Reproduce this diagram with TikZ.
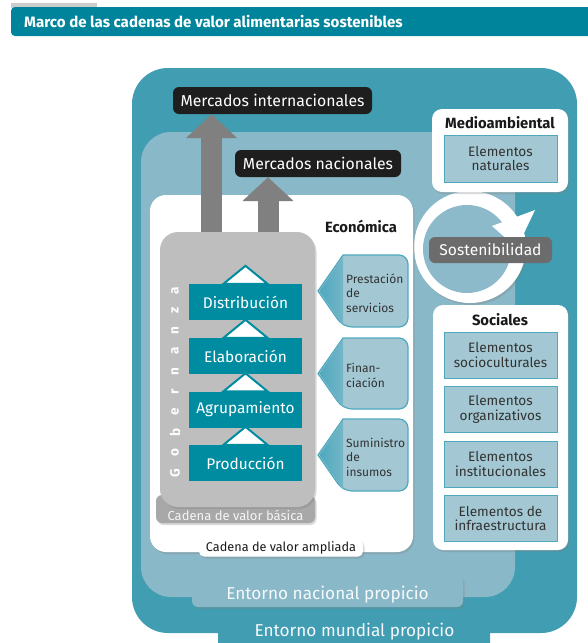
\documentclass[tikz,border=0pt]{standalone}
\usepackage{fontspec}
\setmainfont{Fira Sans}
\usetikzlibrary{arrows.meta, shadows, calc, positioning}

\definecolor{titleteal}{RGB}{0,132,155}
\definecolor{mundial}{RGB}{64,157,178}
\definecolor{nacional}{RGB}{137,184,200}
\definecolor{chainteal}{RGB}{0,140,160}
\definecolor{lightbox}{RGB}{163,200,212}
\definecolor{lightedge}{RGB}{78,168,190}
\definecolor{basicgray}{RGB}{190,190,190}
\definecolor{tabgray}{RGB}{168,168,168}
\definecolor{arrowgray}{RGB}{128,128,128}
\definecolor{marketblack}{RGB}{30,30,30}
\definecolor{sostgray}{RGB}{108,108,108}
\definecolor{diskblue}{RGB}{140,186,203}
\definecolor{textgray}{RGB}{50,50,50}

\begin{document}
\begin{tikzpicture}[x=1pt, y=-1pt,
	soft/.style={drop shadow={shadow xshift=1.5pt, shadow yshift=-2pt, opacity=.3}},
	market/.style={fill=marketblack, text=white, rounded corners=6, inner sep=0, minimum height=27, font=\fontsize{15.8}{18}\selectfont},
	mkarrow/.style={draw=arrowgray, line width=21, -{Triangle[width=50, length=24]}},
	chain/.style={fill=chainteal, text=white, inner sep=0, minimum width=113, minimum height=36, font=\fontsize{15.4}{17}\selectfont},
	chevron/.style={fill=white, draw=chainteal, line width=2, line join=miter},
	element/.style={fill=lightbox, draw=lightedge, line width=1, inner sep=0, minimum width=113, text=textgray, align=center, font=\fontsize{13.6}{14.5}\selectfont},
	sidetext/.style={anchor=west, inner sep=0, align=left, text=textgray, font=\fontsize{12}{14.5}\selectfont},
	heading/.style={text=black!90, inner sep=0, font=\bfseries\fontsize{14.8}{16}\selectfont},
	entorno/.style={text=white!92!nacional, inner sep=0, font=\fontsize{17.2}{20}\selectfont}
	]
	\useasboundingbox (0,0) rectangle (588,643);
	% title bar
	\fill[black!20] (11,3) rectangle (97,8);
	\fill[titleteal, rounded corners=4] (11,7) rectangle (600,36);
	\node[anchor=west, text=white, inner sep=0, font=\bfseries\fontsize{15.1}{18}\selectfont] (title) at (24,21.5) {Marco de las cadenas de valor alimentarias sostenibles};

	% entorno mundial and entorno nacional
	\fill[mundial, rounded corners=36] (132,68) rectangle (577,633);
	\fill[mundial, rounded corners=6] (218,600) rectangle (490,660);
	\node[entorno] (mundo) at (354.5,632) {Entorno mundial propicio};
	\fill[nacional, rounded corners=30] (141,132) rectangle (515,597);
	\fill[nacional, rounded corners=6, soft] (192,575) rectangle (463,607);
	\fill[nacional] (193,570) rectangle (462,596);
	\node[entorno] (pais) at (327.5,595) {Entorno nacional propicio};

	% sostenibilidad
	\fill[white, soft] (470,247) circle[radius=56];
	\fill[diskblue] (467,249) circle[radius=44];
	\fill[white] (492,226) -- (535,210) -- (517,248) -- cycle;
	\node[fill=sostgray, text=white, rounded corners=6, inner sep=0, minimum width=123, minimum height=26, font=\fontsize{15.6}{18}\selectfont] (sost) at (490.5,250) {Sostenibilidad};

	% cadena de valor ampliada
	\fill[white, rounded corners=16, soft] (150,195) rectangle (413,552);
	\node[fill=white, rounded corners=5, soft, inner sep=0, minimum width=164, minimum height=17, text=black!90, font=\fontsize{12.7}{15}\selectfont] (ampl) at (281,548) {Cadena de valor ampliada};
	\node[heading] (econ) at (361,226) {Económica};

	% markets
	\node[market, minimum width=199] (intl) at (272.5,100.5) {Mercados internacionales};
	\node[market, minimum width=166] (nac) at (318,163.5) {Mercados nacionales};
	\coordinate (a1) at (211.5,250);
	\coordinate (a2) at (268,250);
	\draw[mkarrow] (a1) -- (a1 |- intl.south);
	\draw[mkarrow] (a2) -- (a2 |- nac.south);

	% cadena de valor basica
	\fill[tabgray, rounded corners=6, soft] (156,495) rectangle (315,523);
	\node[text=white!88!tabgray, inner sep=0, font=\fontsize{13}{15}\selectfont] (basica) at (235.5,515) {Cadena de valor básica};
	\fill[basicgray, rounded corners=18, soft] (160,232) rectangle (315,507);
	\node[chain] (dist) at (245.5,302) {Distribución};
	\node[chain] (elab) at (245.5,356) {Elaboración};
	\node[chain] (agr) at (245.5,409.5) {Agrupamiento};
	\node[chain] (prod) at (245.5,463) {Producción};
	\foreach \n in {dist,elab,agr,prod}{
		\draw[chevron] ($(\n.north)+(-22,0)$) -- ($(\n.north)+(0,-18)$) -- ($(\n.north)+(22,0)$) -- cycle;
	}
	\foreach \l [count=\i] in {G,o,b,e,r,n,a,n,z,a}{
		\node[rotate=90, inner sep=0, text=white!95!basicgray, font=\bfseries\fontsize{13.5}{14}\selectfont] (gob\i) at (175,{473-(\i-1)*20.3}) {\l};
	}

	% servicios de apoyo
	\foreach \yt/\yb/\nm/\txt in {255/327/serv/{Prestación\\de\\servicios},338/409/fin/{Finan-\\ciación},419/491/sum/{Suministro\\de\\insumos}}{
		\draw[lightedge, line width=1.2, fill=lightbox] (318,{(\yt+\yb)/2}) -- (343,\yt) [rounded corners=9] -- (408,\yt) -- (408,\yb) -- (343,\yb) [sharp corners] -- cycle;
		\shade[left color=lightedge, right color=lightedge!55!lightbox] (319.5,{(\yt+\yb)/2}) -- (343,{\yt+1.5}) -- (343,{\yb-1.5}) -- cycle;
		\node[sidetext] (\nm) at (346,{(\yt+\yb)/2+2}) {\txt};
	}

	% medioambiental
	\node[fill=white, rounded corners=10, soft, minimum width=136, minimum height=83] (medio) at (500,150.5) {};
	\node[heading] (medtit) at (500,123) {Medioambiental};
	\node[element, minimum height=47] (nat) at (500.5,158.5) {Elementos\\naturales};

	% sociales
	\node[fill=white, rounded corners=10, soft, minimum width=135, minimum height=245] (soc) at (500.5,427.5) {};
	\node[heading] (soctit) at (500,320) {Sociales};
	\node[element, minimum height=46] (socio) at (500.5,355) {Elementos\\socioculturales};
	\node[element, minimum height=46] (orga) at (500.5,409.5) {Elementos\\organizativos};
	\node[element, minimum height=46] (inst) at (500.5,464) {Elementos\\institucionales};
	\node[element, minimum height=46] (infra) at (500.5,518.5) {Elementos de\\infraestructura};
\end{tikzpicture}
\end{document}
